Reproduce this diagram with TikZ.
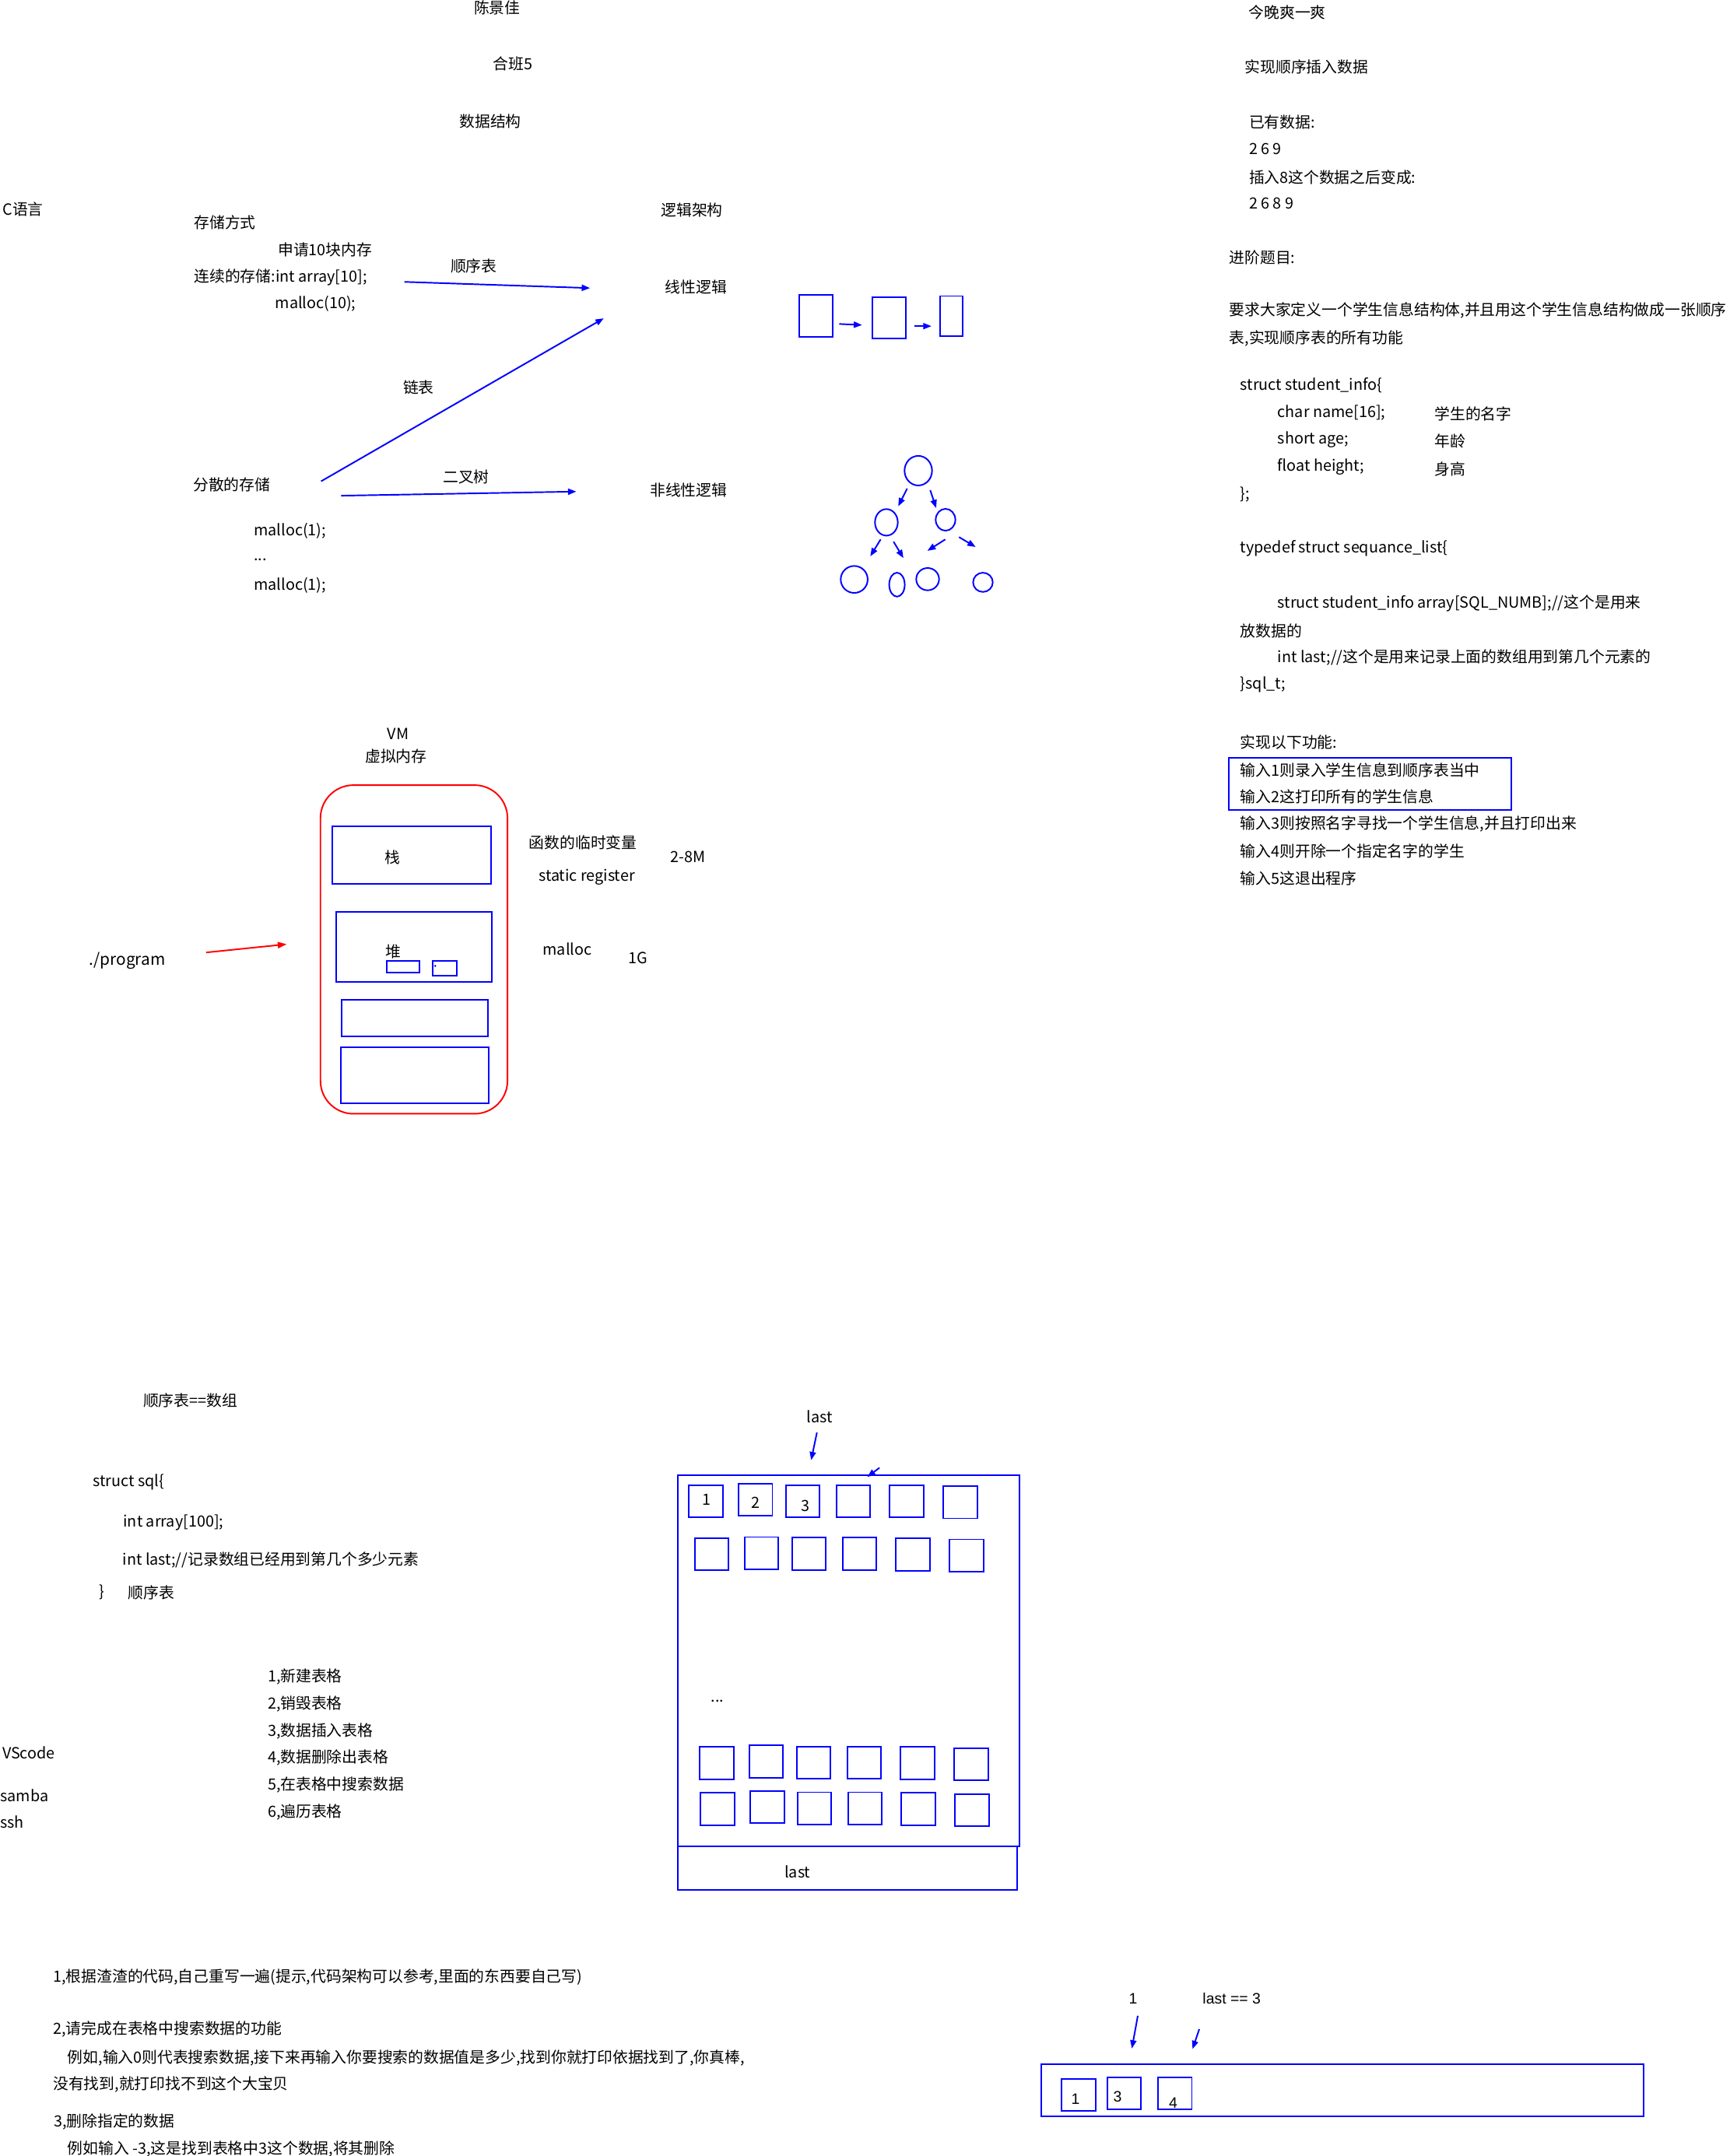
\documentclass[tikz,border=0pt]{standalone}
\usepackage{fontspec}
\setmainfont{Noto Sans CJK SC}
\newfontfamily\arialfont{Liberation Sans}
\usetikzlibrary{arrows.meta,shapes.geometric,calc}

\begin{document}
\begin{tikzpicture}[x=1pt,y=-1pt,
	txt/.style={anchor=west},
	bl/.style={draw=blue,line width=1.1pt},
	arr/.style={blue,line width=1.1pt,-{Triangle[length=6pt,width=4.5pt]}},
	cell/.style={bl,minimum width=24.6pt,minimum height=23.3pt},
	knot/.style={bl,ellipse}]
				\tikzstyle{every node}+=[inner sep=0pt,font=\fontsize{11.2}{13}\selectfont]
				\useasboundingbox (0,0) rectangle (1257.9,1568);
				\node (author) at (361.5,5.5) {陈景佳};
				\node (klass) at (373,46.3) {合班5};
				\node (ds) at (356.5,88.3) {数据结构};
				\node[txt] (clang) at (1.8,152) {C语言};
				\node[txt] (store) at (141,162) {存储方式};
				\node[txt] (apply) at (202,181.6) {申请10块内存};
				\node[txt] (contig) at (141,201.6) {连续的存储:int array[10];};
				\node[txt] (malten) at (200,221) {malloc(10);};
				\node[txt] (seqlbl) at (327.5,193.5) {顺序表};
				\node[txt] (logic) at (480.5,153) {逻辑架构};
				\node[txt] (linear) at (483.5,208.6) {线性逻辑};
				\node[txt] (scatter) at (140.3,352.4) {分散的存储};
				\node[txt] (lnklbl) at (293,281.5) {链表};
				\node[txt] (treelbl) at (322,347) {二叉树};
				\node[txt] (nonlin) at (472.5,356.4) {非线性逻辑};
				\node[txt] (malonea) at (184.5,386) {malloc(1);};
				\node[txt] (maldots) at (184.5,407) {...};
				\node[txt] (maloneb) at (184.5,426) {malloc(1);};
				\coordinate (seqA) at (294,205);
				\coordinate (seqB) at (429,209.5);
				\coordinate (lnkA) at (233.5,350);
				\coordinate (lnkB) at (439,231.5);
				\coordinate (treA) at (248,360.5);
				\coordinate (treB) at (419,357.5);
				\draw[arr] (seqA) -- (seqB);
				\draw[arr] (lnkA) -- (lnkB);
				\draw[arr] (treA) -- (treB);
				\node[bl,minimum width=24.2pt,minimum height=30.8pt] (lla) at (593.1,229.7) {};
				\node[bl,minimum width=24.1pt,minimum height=29.8pt] (llb) at (646.4,231.3) {};
				\node[bl,minimum width=16.2pt,minimum height=29pt] (llc) at (691.9,229.8) {};
				\draw[arr] ($(lla.east)+(4.5,5.9)$) -- ($(llb.west)+(-7,5.1)$);
				\draw[arr] ($(llb.east)+(5.7,5.9)$) -- ($(llc.west)+(-6,7.4)$);
				\node[knot,minimum width=20pt,minimum height=21.5pt] (root) at (667.7,342.3) {};
				\node[knot,minimum width=16.6pt,minimum height=19.3pt] (lc) at (644.5,379.9) {};
				\node[knot,minimum width=14.3pt,minimum height=15.9pt] (rc) at (687.5,378) {};
				\node[knot,minimum width=19.6pt,minimum height=19.6pt] (lfa) at (621.1,421.4) {};
				\node[knot,minimum width=11.3pt,minimum height=17.4pt] (lfb) at (652.2,425.2) {};
				\node[knot,minimum width=16.6pt,minimum height=16.2pt] (lfc) at (674.5,421.2) {};
				\node[knot,minimum width=14.3pt,minimum height=14pt] (lfd) at (714.7,423.5) {};
				\draw[arr] ($(root)+(-8.1,13)$) -- ($(lc)+(8.6,-11.7)$);
				\draw[arr] ($(root)+(8.7,14.2)$) -- ($(rc)+(-6.8,-8.5)$);
				\draw[arr] ($(lc)+(-4.2,12.4)$) -- ($(lfa)+(11.7,-16.8)$);
				\draw[arr] ($(lc)+(5.2,14)$) -- ($(lfb)+(4.7,-19.3)$);
				\draw[arr] ($(rc)+(-0.2,14.3)$) -- ($(lfc)+(-0.2,-20.6)$);
				\draw[arr] ($(rc)+(9.8,12.6)$) -- ($(lfd)+(-5.3,-25.7)$);
				\node (vmlbl) at (289.5,534) {VM};
				\node (vmem) at (288,550) {虚拟内存};
				\node[draw=red,line width=1.1pt,rounded corners=24pt,minimum width=136pt,minimum height=239pt] (vm) at (301,690.5) {};
				\node[bl,minimum width=115.2pt,minimum height=42pt] (stack) at (299.3,622) {};
				\node[bl,minimum width=113pt,minimum height=50.8pt] (heap) at (301,688.8) {};
				\node[bl,minimum width=24pt,minimum height=8.5pt] (chunka) at (293,703.3) {};
				\node[bl,minimum width=17.5pt,minimum height=10.8pt] (chunkb) at (323.3,704.4) {};
				\fill[blue] (316.4,702.5) circle (0.8);
				\node[bl,minimum width=106.4pt,minimum height=26.7pt] (datseg) at (301.8,740.4) {};
				\node[bl,minimum width=107.3pt,minimum height=40.7pt] (codeseg) at (301.7,782.2) {};
				\node (stacklbl) at (285.5,623.5) {栈};
				\node (heaplbl) at (286,692) {堆};
				\node[txt,font=\fontsize{11.8}{13}\selectfont] (prog) at (64.7,698.5) {./program};
				\draw[red,line width=1.1pt,-{Triangle[length=6.5pt,width=4.5pt]}] ($(prog.east)+(29.5,-5.8)$) -- ($(vm.west)+(-24,-3.8)$);
				\node[txt] (tmpvar) at (384.5,612.8) {函数的临时变量};
				\node[txt] (statreg) at (391.5,638) {static register};
				\node[txt] (stacksz) at (487.5,623.4) {2-8M};
				\node[txt] (heapmal) at (394.5,690) {malloc};
				\node[txt] (heapsz) at (456.5,696.7) {1G};
				\node[txt] (tonight) at (907.8,9) {今晚爽一爽};
				\node[txt] (task) at (905,48.7) {实现顺序插入数据};
				\node[txt] (have) at (908,89) {已有数据:};
				\node[txt] (olddata) at (908,108.5) {2 6 9};
				\node[txt] (insert) at (908,129) {插入8这个数据之后变成:};
				\node[txt] (newdata) at (908,148) {2 6 8 9};
				\node[txt] (adv) at (893.7,187) {进阶题目:};
				\node[txt] (reqa) at (893.7,226) {要求大家定义一个学生信息结构体,并且用这个学生信息结构做成一张顺序};
				\node[txt] (reqb) at (893.7,246) {表,实现顺序表的所有功能};
				\node[txt] (stua) at (901.7,280.2) {struct student\_info\{};
				\node[txt] (stub) at (928.8,300) {char name[16];};
				\node[txt] (stuc) at (928.8,320) {short age;};
				\node[txt] (stud) at (928.8,339.6) {float height;};
				\node[txt] (stue) at (901.7,359.8) {\};};
				\node[txt] (cmta) at (1043,301) {学生的名字};
				\node[txt] (cmtb) at (1043,321) {年龄};
				\node[txt] (cmtc) at (1043,341) {身高};
				\node[txt] (sqla) at (901.7,399) {typedef struct sequance\_list\{};
				\node[txt] (sqlb) at (928.8,438.9) {struct student\_info array[SQL\_NUMB];//这个是用来};
				\node[txt] (sqlc) at (901.7,458.9) {放数据的};
				\node[txt] (sqld) at (928.8,478.4) {int last;//这个是用来记录上面的数组用到第几个元素的};
				\node[txt] (sqle) at (901.7,498) {\}sql\_t;};
				\node[txt] (funcs) at (901.7,540) {实现以下功能:};
				\node[bl,minimum width=205.6pt,minimum height=38pt] (pick) at (996.2,570) {};
				\node[txt] (opa) at (901.7,560) {输入1则录入学生信息到顺序表当中};
				\node[txt] (opb) at (901.7,579.5) {输入2这打印所有的学生信息};
				\node[txt] (opc) at (901.7,599) {输入3则按照名字寻找一个学生信息,并且打印出来};
				\node[txt] (opd) at (901.7,619) {输入4则开除一个指定名字的学生};
				\node[txt] (ope) at (901.7,639) {输入5这退出程序};
				\node[txt] (eqarr) at (104,1018.5) {顺序表==数组};
				\node[txt] (sqlsa) at (67.5,1078) {struct sql\{};
				\node[txt] (sqlsb) at (89.5,1107.3) {int array[100];};
				\node[txt] (sqlsc) at (89,1134.4) {int last;//记录数组已经用到第几个多少元素};
				\node[txt] (sqlsd) at (72,1158.2) {\}};
				\node[txt] (sqlse) at (93,1158.2) {顺序表};
				\node[txt] (fna) at (194.5,1219.5) {1,新建表格};
				\node[txt] (fnb) at (194.5,1239) {2,销毁表格};
				\node[txt] (fnc) at (194.5,1259) {3,数据插入表格};
				\node[txt] (fnd) at (194.5,1278.5) {4,数据删除出表格};
				\node[txt] (fne) at (194.5,1298) {5,在表格中搜索数据};
				\node[txt] (fnf) at (194.5,1318) {6,遍历表格};
				\node[txt] (vscode) at (1.5,1274.8) {VScode};
				\node[txt] (samba) at (0,1305.6) {samba};
				\node[txt] (ssh) at (0,1325) {ssh};
				\node[bl,minimum width=248pt,minimum height=270pt] (table) at (617,1208) {};
				\node[bl,minimum width=246.3pt,minimum height=31.5pt] (tail) at (616.2,1358.8) {};
				\node (lasttop) at (595.8,1030) {last};
				\node (lastbot) at (579.9,1361.3) {last};
				\draw[arr] ($(lasttop)+(-1.8,11.8)$) -- ($(lasttop)+(-6,31.9)$);
				\draw[arr] ($(table.north)+(22.5,-5)$) -- ($(table.north)+(13.6,1.7)$);
				\node[cell] (ca1) at (513.2,1092) {};
				\node[cell] (ca2) at (549.3,1090.9) {};
				\node[cell] (ca3) at (583.8,1091.6) {};
				\node[cell] (ca4) at (620.4,1091.6) {};
				\node[cell] (ca5) at (659.3,1092) {};
				\node[cell] (ca6) at (698.2,1092.6) {};
				\node[cell] (cb1) at (517.6,1130.5) {};
				\node[cell] (cb2) at (553.7,1129.5) {};
				\node[cell] (cb3) at (588.2,1130) {};
				\node[cell] (cb4) at (624.9,1130) {};
				\node[cell] (cb5) at (663.8,1130.6) {};
				\node[cell] (cb6) at (702.7,1131.2) {};
				\node[cell] (cc1) at (521.1,1282.2) {};
				\node[cell] (cc2) at (557.2,1281.1) {};
				\node[cell] (cc3) at (591.6,1281.8) {};
				\node[cell] (cc4) at (628.3,1281.8) {};
				\node[cell] (cc5) at (667.2,1282.2) {};
				\node[cell] (cc6) at (706.1,1283) {};
				\node[cell] (cd1) at (521.8,1315.6) {};
				\node[cell] (cd2) at (558,1314.4) {};
				\node[cell] (cd3) at (592.2,1315.1) {};
				\node[cell] (cd4) at (628.9,1315.1) {};
				\node[cell] (cd5) at (667.8,1315.6) {};
				\node[cell] (cd6) at (706.7,1316.3) {};
				\node (vala) at (513.7,1090.9) {1};
				\node (valb) at (549.2,1092.8) {2};
				\node (valc) at (585.9,1094.9) {3};
				\node (celldots) at (521.6,1237) {...};
				\node[txt] (hwa) at (38.5,1438) {1,根据渣渣的代码,自己重写一遍(提示,代码架构可以参考,里面的东西要自己写)};
				\node[txt] (hwb) at (38.5,1476) {2,请完成在表格中搜索数据的功能};
				\node[txt] (hwc) at (49,1496.5) {例如,输入0则代表搜索数据,接下来再输入你要搜索的数据值是多少,找到你就打印依据找到了,你真棒,};
				\node[txt] (hwd) at (38.5,1516) {没有找到,就打印找不到这个大宝贝};
				\node[txt] (hwe) at (39,1543) {3,删除指定的数据};
				\node[txt] (hwf) at (49,1563) {例如输入 -3,这是找到表格中3这个数据,将其删除};
				\node[font=\arialfont\fontsize{11}{13}\selectfont] (idxone) at (823.9,1453.5) {1};
				\node[txt,font=\arialfont\fontsize{11}{13}\selectfont] (lasteq) at (874.3,1453.5) {last == 3};
				\draw[arr] ($(idxone)+(3.4,12.5)$) -- ($(idxone)+(-0.9,36.3)$);
				\draw[arr] ($(lasteq.west)+(-2.3,22.2)$) -- ($(lasteq.west)+(-7.2,36.7)$);
				\node[bl,minimum width=438pt,minimum height=38pt] (row) at (976,1520) {};
				\node[bl,minimum width=24.8pt,minimum height=23.1pt] (ka) at (784.1,1523.6) {};
				\node[bl,minimum width=24.6pt,minimum height=23.3pt] (kb) at (817.4,1522.4) {};
				\node[bl,minimum width=24.8pt,minimum height=23.3pt] (kc) at (854.2,1522.4) {};
				\node[font=\arialfont\fontsize{11}{13}\selectfont] (kva) at (782,1526.5) {1};
				\node[font=\arialfont\fontsize{11}{13}\selectfont] (kvb) at (812.6,1524.7) {3};
				\node[font=\arialfont\fontsize{11}{13}\selectfont] (kvc) at (853,1529.3) {4};
				\end{tikzpicture}
\end{document}
